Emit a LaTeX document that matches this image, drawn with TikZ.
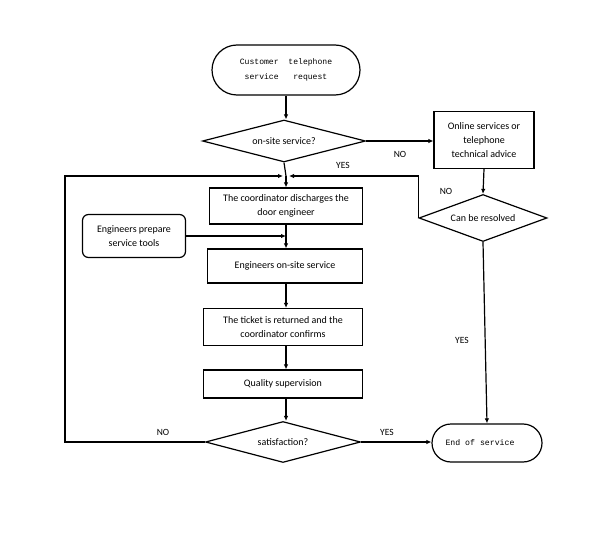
\documentclass[tikz,border=0pt]{standalone}
\usepackage{fontspec}
\setmainfont{Carlito}
\newfontfamily\monof{Liberation Mono}
\usetikzlibrary{shapes.geometric,arrows.meta}
\begin{document}
\begin{tikzpicture}[x=1pt,y=-1pt,
  every node/.style={font=\fontsize{10}{14}\selectfont},
  box/.style={draw,line width=1.2pt,rectangle,align=center,inner sep=1pt},
  term/.style={draw,line width=1.2pt,rectangle,align=center,font=\monof\fontsize{8.1}{15}\selectfont},
  dia/.style={draw,line width=1.2pt,diamond,inner sep=0pt,aspect=3.8},
  arr/.style={line width=1.2pt,-{Latex[length=5pt,width=4.5pt]}},
  ln/.style={line width=1.2pt},
  lbl/.style={font=\fontsize{9.5}{11}\selectfont}]
\useasboundingbox (0,0) rectangle (597,540);
\fill[white] (0,0) rectangle (597,540);
\node[term,rounded corners=25pt,minimum width=148pt,minimum height=50pt] (start) at (286,70) {Customer\ \ telephone\\service\ \ \ request};
\node[dia,minimum width=163pt,minimum height=42pt] (d1) at (284,141) {on-site service?};
\node[box,minimum width=100pt,minimum height=57pt] (online) at (484,140) {Online services or\\telephone\\technical advice};
\node[dia,minimum width=128pt,minimum height=47pt] (d2) at (483,218) {Can be resolved};
\node[box,minimum width=153pt,minimum height=36pt] (coord) at (286,206) {The coordinator discharges the\\door engineer};
\node[box,rounded corners=6pt,minimum width=103pt,minimum height=43pt] (prep) at (134,236) {Engineers prepare\\service tools};
\node[box,minimum width=155pt,minimum height=34pt] (onsite) at (285,266) {Engineers on-site service};
\node[box,minimum width=159pt,minimum height=37pt] (ticket) at (283,327) {The ticket is returned and the\\coordinator confirms};
\node[box,minimum width=159pt,minimum height=28pt] (qual) at (283,384) {Quality supervision};
\node[dia,minimum width=155pt,minimum height=41pt] (sat) at (283,442) {satisfaction?};
\node[term,rounded corners=19pt,minimum width=110pt,minimum height=38pt,font=\monof\fontsize{8.2}{10}\selectfont] (end) at (487,443) {End of service\hspace{14pt}};
\coordinate (m) at (286,176);
\coordinate (loopL) at (65,176);
\draw[arr] (start.south) -- (start.south |- d1.north);
\draw[arr] (d1.east) -- (online.west |- d1.east);
\draw[arr] (online.south) -- (d2.north);
\draw[ln] (d1.south) -- (m);
\draw[arr] (m) -- (coord.north);
\draw[arr] (d2.west) |- ([xshift=3pt]m);
\draw[arr] (sat.west) -| (loopL) -- ([xshift=-3pt]m);
\draw[arr] (coord.south) -- (onsite.north -| coord.south);
\draw[arr] (prep.east) -- (prep.east -| coord.south);
\draw[arr] (onsite.south -| coord.south) -- (ticket.north -| coord.south);
\draw[arr] (ticket.south -| coord.south) -- (qual.north -| coord.south);
\draw[arr] (qual.south -| coord.south) -- (sat.north -| coord.south);
\draw[arr] (sat.east) -- (end.west |- sat.east);
\draw[arr] (d2.south) -- (end.north);
\node[lbl] (l1) at (400,154) {NO};
\node[lbl] (l2) at (343,165) {YES};
\node[lbl] (l3) at (446,191) {NO};
\node[lbl] (l4) at (462,340) {YES};
\node[lbl] (l5) at (387,432) {YES};
\node[lbl] (l6) at (163,432) {NO};
\end{tikzpicture}
\end{document}
